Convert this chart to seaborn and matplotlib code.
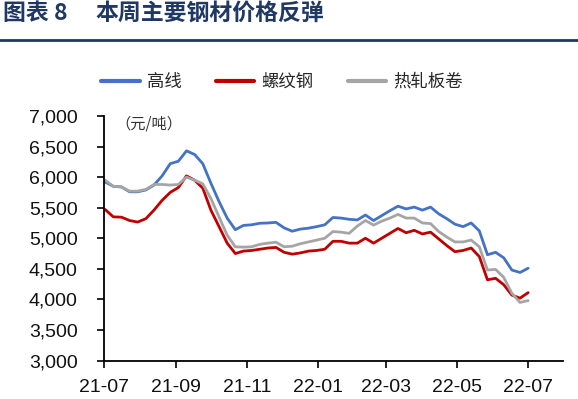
import numpy as np
import pandas as pd
import matplotlib
matplotlib.use("Agg")
import matplotlib.pyplot as plt
import matplotlib.dates as mdates
from matplotlib.ticker import FuncFormatter
from matplotlib.lines import Line2D
import seaborn as sns

sns.set_theme(style="white")
plt.rcParams['font.family'] = ['Liberation Sans', 'Noto Sans CJK SC', 'DejaVu Sans']

series_names = ["高线", "螺纹钢", "热轧板卷"]
colors = ["#4472C4", "#C00000", "#A5A5A5"]

wire_rod = [5920, 5850, 5840, 5760, 5760, 5790, 5870, 6020, 6220, 6260,
            6430, 6370, 6220, 5900, 5600, 5330, 5140, 5210, 5220, 5245,
            5250, 5260, 5170, 5115, 5150, 5165, 5190, 5220, 5340, 5330,
            5310, 5300, 5380, 5290, 5370, 5450, 5525, 5480, 5510, 5460,
            5510, 5400, 5320, 5230, 5190, 5250, 5120, 4730, 4770, 4680,
            4480, 4440, 4510]
rebar = [5470, 5350, 5345, 5290, 5265, 5320, 5460, 5620, 5750, 5830,
         6020, 5950, 5820, 5460, 5190, 4920, 4750, 4790, 4800, 4820,
         4840, 4850, 4770, 4740, 4760, 4790, 4800, 4820, 4950, 4950,
         4920, 4920, 5000, 4920, 5000, 5080, 5160, 5090, 5130, 5070,
         5100, 4990, 4880, 4780, 4800, 4840, 4700, 4320, 4345, 4240,
         4070, 4020, 4110]
hot_rolled = [5950, 5850, 5840, 5770, 5770, 5800, 5880, 5880, 5870, 5880,
              6000, 5950, 5890, 5650, 5350, 5050, 4860, 4855, 4860, 4900,
              4920, 4935, 4860, 4870, 4910, 4940, 4970, 5000, 5110, 5100,
              5080, 5200, 5290, 5215, 5280, 5330, 5390, 5330, 5330, 5250,
              5240, 5110, 5020, 4940, 4940, 4970, 4860, 4480, 4490, 4360,
              4100, 3950, 3980]

dates = pd.date_range("2021-07-02", periods=len(wire_rod), freq="7D")
tick_dates = pd.to_datetime(["2021-07-01", "2021-09-01", "2021-11-01", "2022-01-01",
                             "2022-03-01", "2022-05-01", "2022-07-01"])
tick_labels = ["21-07", "21-09", "21-11", "22-01", "22-03", "22-05", "22-07"]
yticks = list(range(3000, 7001, 500))

df = pd.DataFrame({"date": dates, series_names[0]: wire_rod,
                   series_names[1]: rebar, series_names[2]: hot_rolled})
long = df.melt(id_vars="date", var_name="品种", value_name="价格")

fig = plt.figure(figsize=(5.78, 3.99), dpi=100)
ax = fig.add_axes([104/578, 1-360.5/399, (563-104)/578, (360.5-116)/399])

sns.lineplot(data=long, x="date", y="价格", hue="品种", hue_order=series_names,
             palette=colors, linewidth=2.0, ax=ax, legend=False)

ax.set_xlim(pd.Timestamp("2021-07-01"), pd.Timestamp("2022-07-31"))
ax.set_ylim(3000, 7000)
ax.set_yticks(yticks)
ax.yaxis.set_major_formatter(FuncFormatter(lambda v, p: f"{int(v):,}"))
ax.set_xticks(tick_dates)
ax.set_xticklabels(tick_labels)
ax.set_xlabel("")
ax.set_ylabel("")
for s in ["top", "right"]:
    ax.spines[s].set_visible(False)
for s in ["left", "bottom"]:
    ax.spines[s].set_color("black")
    ax.spines[s].set_linewidth(1.3)
ax.tick_params(axis="y", which="major", direction="out", length=5, width=1.2,
               color="black", left=True, pad=14, labelsize=14, labelcolor="#111111")
ax.tick_params(axis="x", which="major", direction="out", length=5, width=1.2,
               color="black", bottom=True, pad=8, labelsize=14, labelcolor="#111111")
ax.grid(False)

ax.text(115/578, 1-124/399, "（元/吨）", transform=fig.transFigure, fontsize=11,
        family=['Noto Sans CJK JP', 'DejaVu Sans'], color="#333333", va="center", ha="left")

handles = [Line2D([0], [0], color=c, lw=3) for c in colors]
fig.legend(handles, series_names, loc="center", bbox_to_anchor=(282/578, 1-82/399),
           ncol=3, frameon=False, handlelength=2.2, handletextpad=0.4,
           columnspacing=2.0, prop={'family': ['Noto Sans CJK SC', 'DejaVu Sans'], 'size': 12.5})

fig.text(3/578, 1-14/399, "图表 8", fontsize=16.5, fontweight="bold", color="#1F3864",
         family=['Noto Sans CJK SC', 'DejaVu Sans'], va="center", ha="left")
fig.text(95/578, 1-14/399, "本周主要钢材价格反弹", fontsize=16.5, fontweight="bold", color="#1F3864",
         family=['Noto Sans CJK SC', 'DejaVu Sans'], va="center", ha="left")
fig.add_artist(Line2D([0, 1], [1-40/399, 1-40/399], transform=fig.transFigure,
                      color="#1B3A5C", lw=2.0))

fig.savefig("out.png", dpi=100, facecolor="white")
